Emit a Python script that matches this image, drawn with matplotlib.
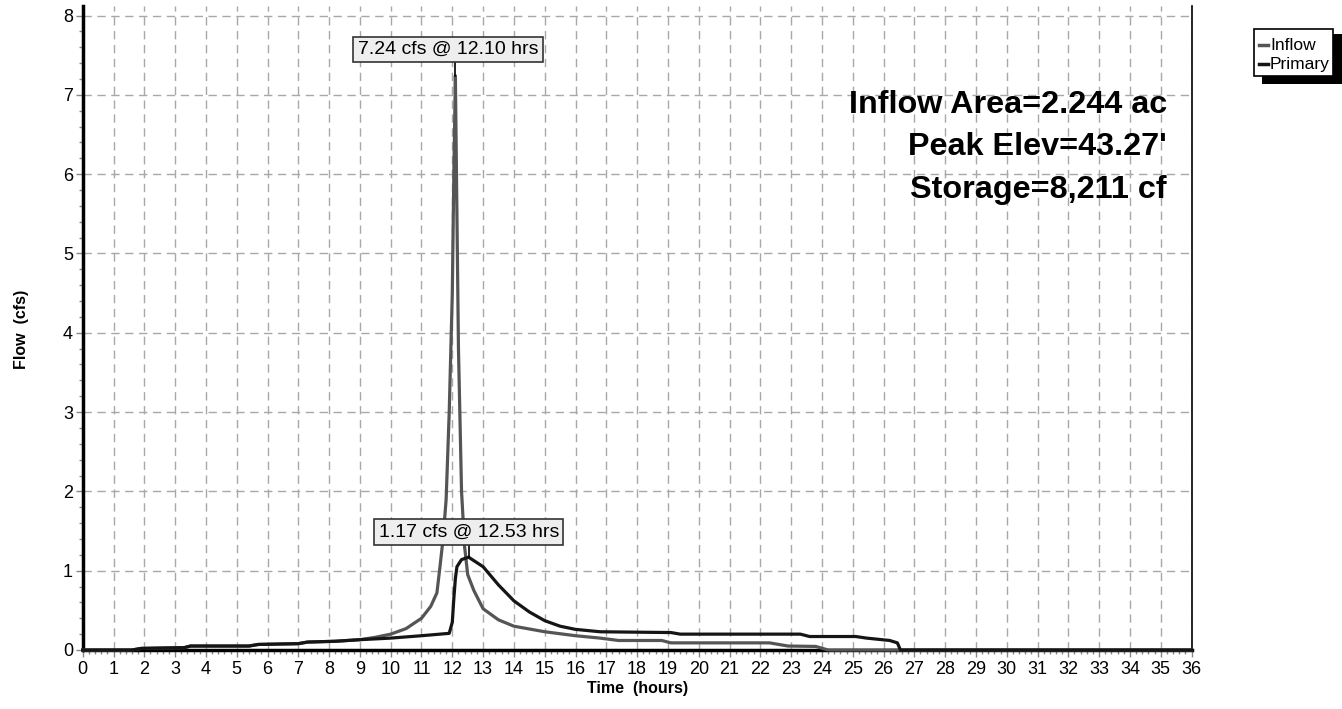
import matplotlib
matplotlib.use("Agg")
import matplotlib.pyplot as plt
from matplotlib.patches import Rectangle
from matplotlib.lines import Line2D
import numpy as np

plt.rcParams['font.family'] = ['Liberation Sans', 'DejaVu Sans']

# ---- data ----
inflow_t = [0, 1.6, 1.9, 3.3, 3.5, 5.4, 5.7, 7.0, 7.3, 8.2, 9.0, 9.5, 10.0, 10.5, 11.0, 11.3,
            11.5, 11.6, 11.7, 11.8, 11.9, 12.0, 12.05, 12.1, 12.15, 12.2, 12.3, 12.4, 12.5,
            12.7, 13.0, 13.5, 14.0, 15.0, 16.0, 16.8, 17.4, 18.8, 19.1, 22.3, 22.9, 23.8,
            24.2, 36]
inflow_q = [0, 0, 0.02, 0.03, 0.05, 0.05, 0.07, 0.08, 0.10, 0.11, 0.13, 0.16, 0.20, 0.27, 0.40,
            0.55, 0.72, 1.05, 1.40, 1.90, 3.0, 4.5, 6.0, 7.24, 5.5, 3.8, 2.0, 1.3, 0.95, 0.75,
            0.52, 0.38, 0.30, 0.23, 0.18, 0.15, 0.12, 0.12, 0.09, 0.09, 0.05, 0.045, 0, 0]

primary_t = [0, 1.6, 1.9, 3.3, 3.5, 5.4, 5.7, 7.0, 7.3, 8.2, 9.0, 10.0, 11.0, 11.9, 12.0,
             12.05, 12.1, 12.15, 12.3, 12.53, 13.0, 13.5, 14.0, 14.5, 15.0, 15.5, 16.0, 16.8,
             19.1, 19.4, 23.3, 23.6, 25.1, 25.45, 26.2, 26.45, 26.55, 36]
primary_q = [0, 0, 0.02, 0.03, 0.05, 0.05, 0.07, 0.08, 0.10, 0.11, 0.13, 0.15, 0.18, 0.21,
             0.35, 0.65, 0.90, 1.05, 1.14, 1.17, 1.05, 0.82, 0.62, 0.48, 0.37, 0.30, 0.26,
             0.23, 0.22, 0.20, 0.20, 0.17, 0.17, 0.15, 0.12, 0.09, 0, 0]

inflow_peak = (12.10, 7.24)
primary_peak = (12.53, 1.17)
info_lines = ["Inflow Area=2.244 ac", "Peak Elev=43.27'", "Storage=8,211 cf"]
legend_labels = ["Inflow", "Primary"]

INFLOW_C = '#555555'
PRIMARY_C = '#151515'

W, H = 1342, 709
fig = plt.figure(figsize=(W / 100, H / 100), dpi=100)

def fx(px):
    return px / W

def fy(py):
    return 1 - py / H

ax = fig.add_axes([fx(82.7), fy(650), fx(1191.5) - fx(82.7), fy(6) - fy(650)])
ax.set_xlim(0, 36)
ax.set_ylim(0, 8.12)

ax.set_xticks(np.arange(0, 37, 1))
ax.set_xticks(np.arange(0, 36.01, 0.2), minor=True)
ax.set_yticks(np.arange(0, 9, 1))
ax.set_yticks(np.arange(0, 8.01, 0.2), minor=True)
ax.grid(True, which='major', color='#a8a8a8', linestyle=(0, (6, 4)), linewidth=1.0)
ax.tick_params(axis='both', which='major', labelsize=13, length=5, color='#888888', width=1)
ax.tick_params(axis='both', which='minor', length=3, color='#888888', width=1)
ax.tick_params(axis='x', pad=3)
ax.tick_params(axis='y', pad=2)

ax.spines['top'].set_visible(False)
ax.spines['left'].set_linewidth(2.5)
ax.spines['bottom'].set_linewidth(2.5)
ax.spines['right'].set_linewidth(1.2)

ax.plot(inflow_t, inflow_q, color=INFLOW_C, linewidth=2.3, clip_on=False, zorder=3,
        solid_joinstyle='round')
ax.plot(primary_t, primary_q, color=PRIMARY_C, linewidth=2.3, clip_on=False, zorder=4,
        solid_joinstyle='round')

ax.set_xlabel("Time  (hours)", fontsize=11.5, fontweight='bold', labelpad=2)
ax.set_ylabel("Flow  (cfs)", fontsize=11.5, fontweight='bold')
ax.yaxis.set_label_coords(fx(29), fy(329), transform=fig.transFigure)

# peak annotations
bbox = dict(boxstyle='square,pad=0.22', facecolor='#eeeeee', edgecolor='#333333', linewidth=1.2)
ax.text(11.86, 7.57, f"{inflow_peak[1]:.2f} cfs @ {inflow_peak[0]:.2f} hrs", ha='center',
        va='center', fontsize=14, bbox=bbox, zorder=6)
ax.plot([inflow_peak[0], inflow_peak[0]], [7.40, inflow_peak[1]], color='black', lw=1.2, zorder=5)
ax.text(12.54, 1.49, f"{primary_peak[1]:.2f} cfs @ {primary_peak[0]:.2f} hrs", ha='center',
        va='center', fontsize=14, bbox=bbox, zorder=6)
ax.plot([primary_peak[0], primary_peak[0]], [1.33, primary_peak[1]], color='black', lw=1.2, zorder=5)

# info text
for line, yv in zip(info_lines, [6.87, 6.34, 5.80]):
    ax.text(35.2, yv, line, ha='right', va='center', fontsize=23.3, fontweight='bold', zorder=6)

# legend (manual, with black shadow)
shadow = Rectangle((fx(1262), fy(84)), fx(1342) - fx(1262), fy(34) - fy(84),
                   transform=fig.transFigure, facecolor='black', edgecolor='none')
box = Rectangle((fx(1254), fy(76)), fx(1333) - fx(1254), fy(29) - fy(76),
                transform=fig.transFigure, facecolor='white', edgecolor='black', linewidth=1.2)
fig.patches.extend([shadow, box])
for lab, col, py in zip(legend_labels, [INFLOW_C, PRIMARY_C], [45, 64]):
    fig.lines.append(Line2D([fx(1259), fx(1268)], [fy(py), fy(py)], transform=fig.transFigure,
                            color=col, linewidth=2.5))
    fig.text(fx(1270), fy(py), lab, ha='left', va='center', fontsize=12.5)

fig.savefig("out.png", dpi=100)
